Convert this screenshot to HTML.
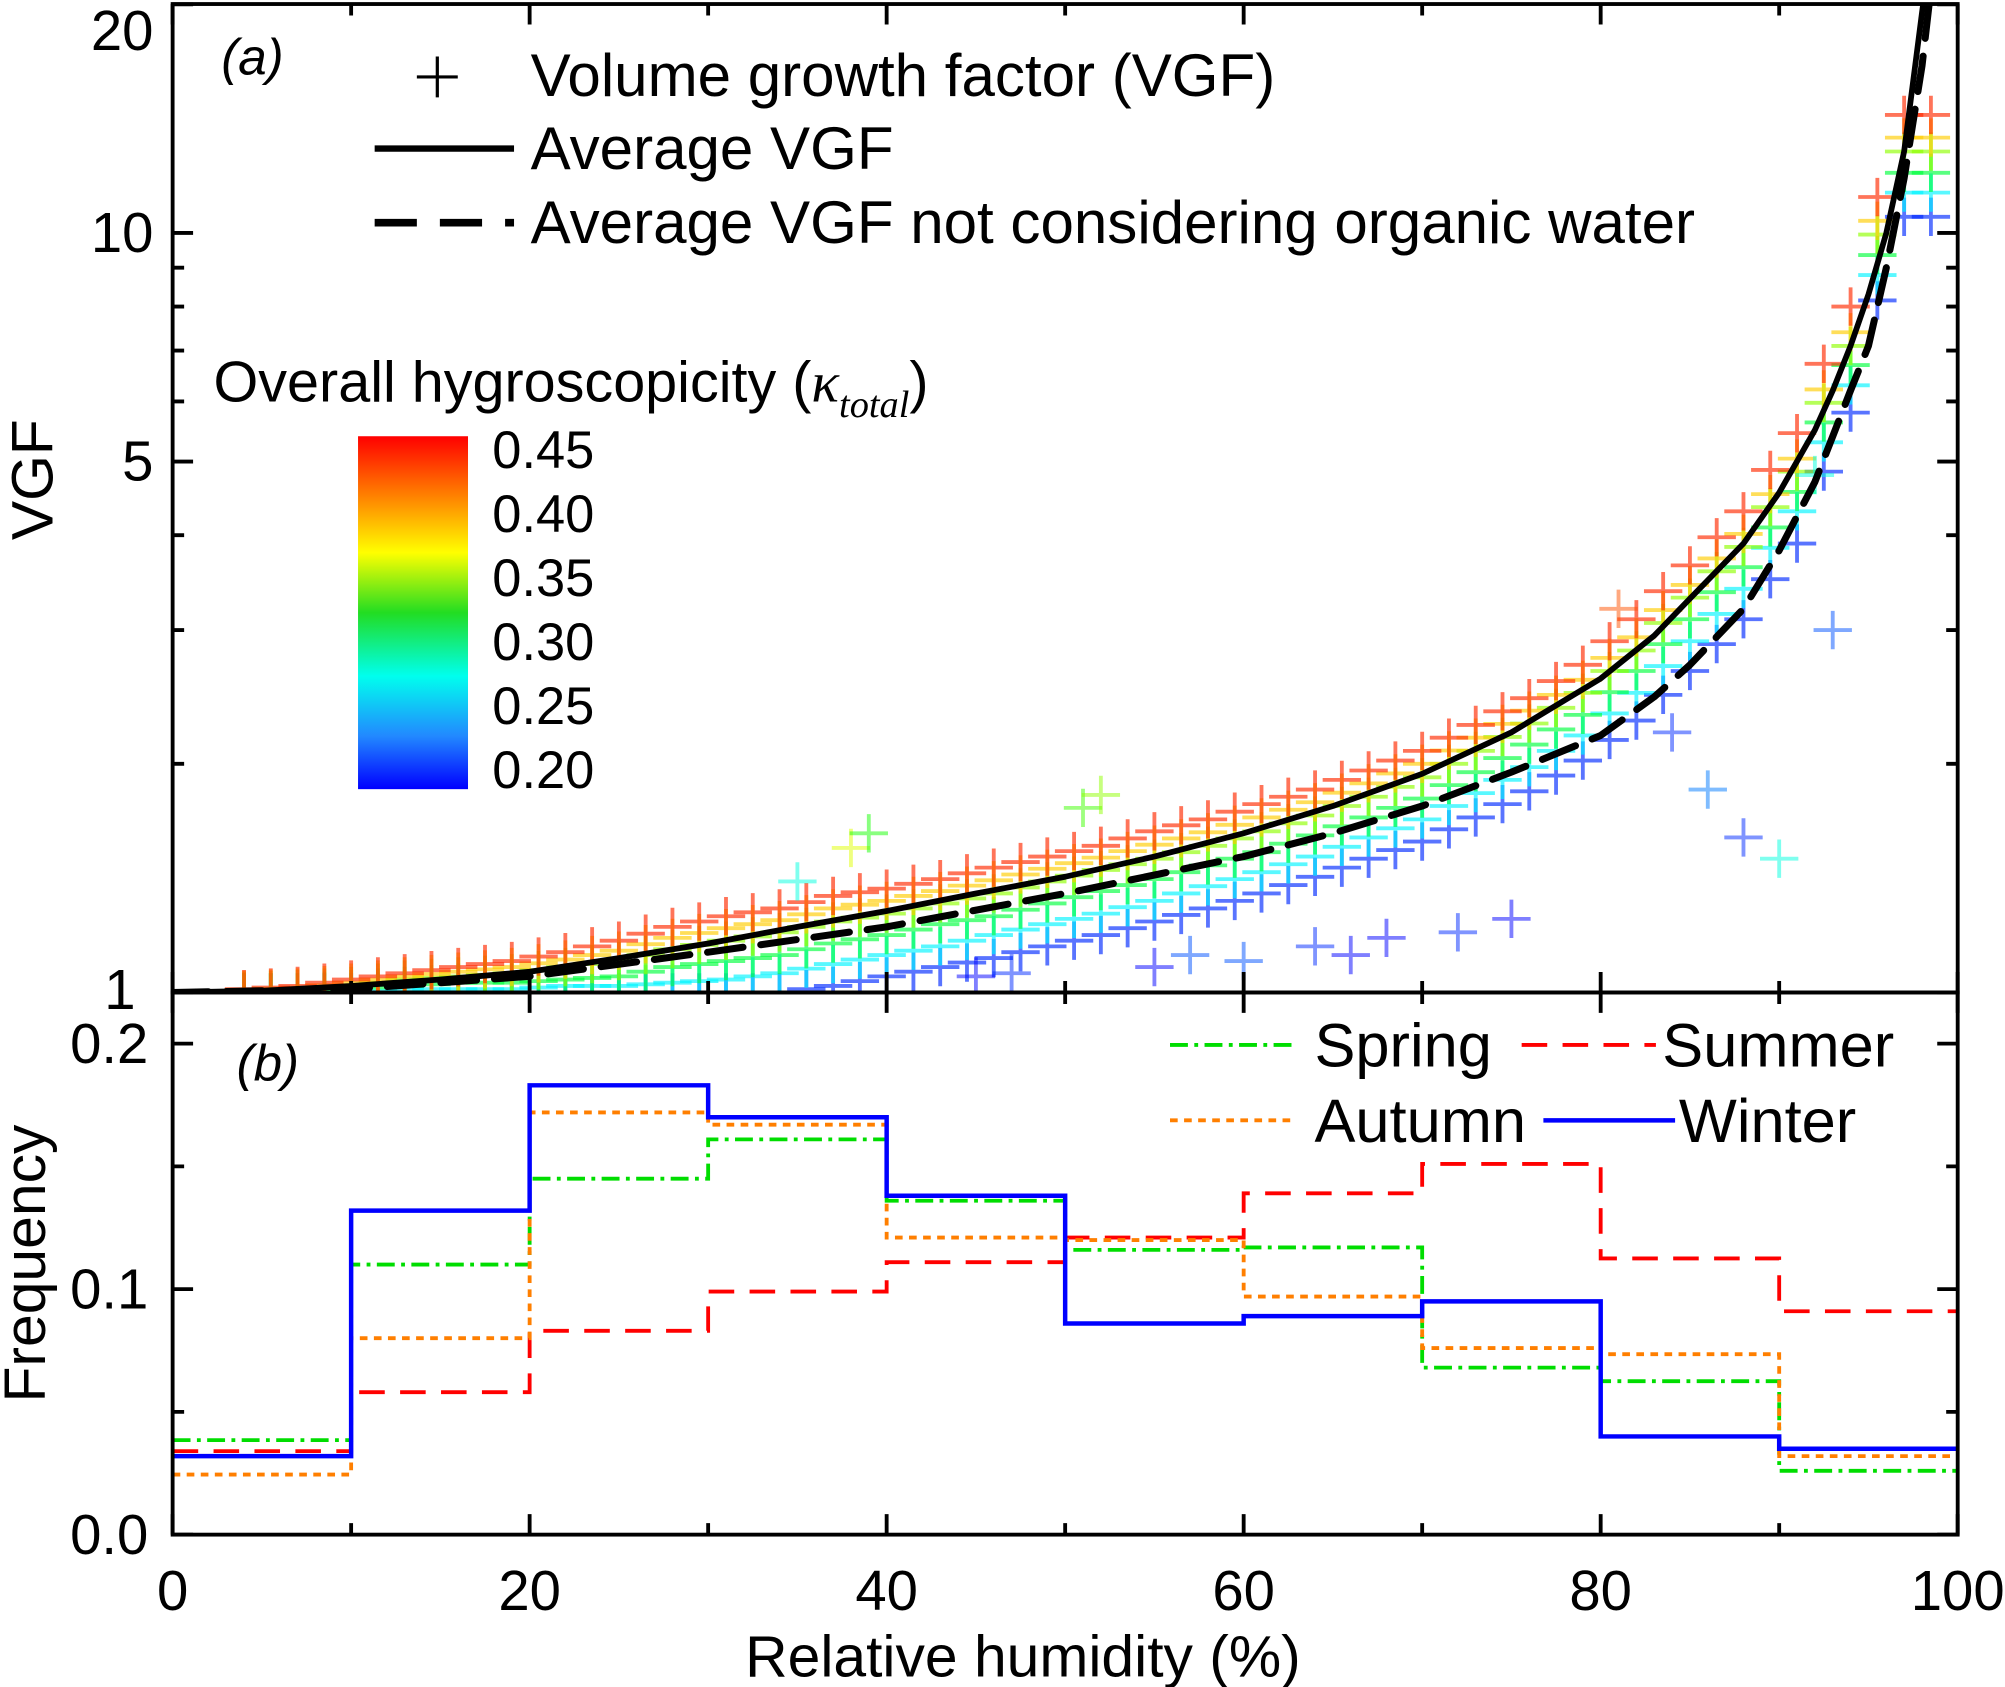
<!DOCTYPE html>
<html><head><meta charset="utf-8"><style>
html,body{margin:0;padding:0;background:#fff}
svg{display:block}
text{font-family:"Liberation Sans",sans-serif;fill:#000}
</style></head><body>
<svg id="chart" width="2005" height="1687" viewBox="0 0 1568 1319" xmlns="http://www.w3.org/2000/svg">
<defs>
<linearGradient id="cb" x1="0" y1="0" x2="0" y2="1">
<stop offset="0" stop-color="#ff0000"/><stop offset="0.2" stop-color="#ff9900"/><stop offset="0.33" stop-color="#ffff00"/><stop offset="0.5" stop-color="#22dd22"/><stop offset="0.68" stop-color="#00ffee"/><stop offset="0.85" stop-color="#2288ff"/><stop offset="1" stop-color="#0000ff"/>
</linearGradient>
<clipPath id="clipA"><rect x="135" y="3" width="1396" height="773"/></clipPath>
<clipPath id="clipB"><rect x="135" y="776" width="1396" height="424"/></clipPath>
</defs>
<g id="scatter" clip-path="url(#clipA)"></g>
<g id="curves" clip-path="url(#clipA)"></g>
<g id="hist" clip-path="url(#clipB)"></g>
<g id="axes"></g>

<text x="173" y="58" font-size="40" font-style="italic">(a)</text>
<text x="185" y="845" font-size="40" font-style="italic">(b)</text>

<g>
<g>
<path d="M326 60H358M342 44V76" stroke="#000" stroke-width="2.5"/>
<text x="415" y="75" font-size="47">Volume growth factor (VGF)</text></g>
<g>
<line x1="293" y1="116" x2="402" y2="116" stroke="#000" stroke-width="5"/>
<text x="415" y="132" font-size="47">Average VGF</text></g>
<g>
<line x1="293" y1="174" x2="402" y2="174" stroke="#000" stroke-width="6" stroke-dasharray="33,18"/>
<text x="415" y="190" font-size="47">Average VGF not considering organic water</text></g>
</g>

<g>
<text x="167" y="314" font-size="45">Overall  hygroscopicity (<tspan font-family="Liberation Serif" font-style="italic">κ</tspan><tspan font-family="Liberation Serif" font-style="italic" font-size="30" dy="12">total</tspan><tspan dy="-12">)</tspan></text>
<rect x="280" y="341" width="86" height="276" fill="url(#cb)"/>
<g font-size="41">
<text x="385" y="366">0.45</text><text x="385" y="416">0.40</text><text x="385" y="466">0.35</text>
<text x="385" y="516">0.30</text><text x="385" y="566">0.25</text><text x="385" y="616">0.20</text></g>
</g>

<g>
<g><line x1="915" y1="817" x2="1015" y2="817" stroke="#00dd00" stroke-width="3" stroke-dasharray="14,5,3,5"/><text x="1028" y="834" font-size="48">Spring</text></g>
<g><line x1="1190" y1="817" x2="1295" y2="817" stroke="#ff0000" stroke-width="3" stroke-dasharray="20,12"/><text x="1300" y="834" font-size="48">Summer</text></g>
<g><line x1="915" y1="876" x2="1010" y2="876" stroke="#ff7f00" stroke-width="3" stroke-dasharray="6,5"/><text x="1028" y="893" font-size="48">Autumn</text></g>
<g><line x1="1207" y1="876" x2="1310" y2="876" stroke="#0000ff" stroke-width="3.5"/><text x="1313" y="893" font-size="48">Winter</text></g>
</g>

<text x="800" y="1311" font-size="46" text-anchor="middle">Relative humidity (%)</text>
<text transform="translate(41,375) rotate(-90)" font-size="46" text-anchor="middle">VGF</text>
<text transform="translate(35,988) rotate(-90)" font-size="46" text-anchor="middle">Frequency</text>
</svg>
<script>
const rhPts=[4,7,10,13,16,19,22,25,28,31,34,37,40,43,46,49,52,55,58,61,64,67,70,73,76,79,82,85,88,91,94,97];
const vgfTop=[1.01,1.02,1.04,1.06,1.08,1.10,1.13,1.17,1.22,1.26,1.29,1.34,1.37,1.41,1.46,1.51,1.56,1.63,1.69,1.77,1.85,1.96,2.08,2.25,2.44,2.70,3.10,3.65,4.3,5.45,8.0,14.3];
const vgfUp=[1.008,1.015,1.03,1.05,1.065,1.08,1.105,1.135,1.18,1.215,1.245,1.29,1.32,1.36,1.405,1.455,1.505,1.565,1.625,1.70,1.78,1.885,2.0,2.165,2.35,2.58,2.935,3.44,4.015,5.045,7.4,13.35];
const vgfMid=[1.005,1.01,1.02,1.04,1.05,1.06,1.08,1.10,1.14,1.17,1.20,1.24,1.27,1.31,1.35,1.40,1.45,1.50,1.56,1.63,1.71,1.81,1.92,2.08,2.26,2.48,2.82,3.31,3.86,4.85,7.1,12.8];
const vgfLow=[1.0,1.0,1.01,1.02,1.03,1.03,1.04,1.05,1.08,1.10,1.12,1.16,1.19,1.23,1.26,1.31,1.36,1.41,1.47,1.53,1.61,1.70,1.80,1.95,2.12,2.32,2.65,3.10,3.63,4.56,6.7,12.0];
const vgfDn=[1.0,1.0,1.0,1.01,1.01,1.01,1.02,1.02,1.03,1.04,1.06,1.09,1.12,1.15,1.19,1.23,1.27,1.32,1.38,1.44,1.51,1.60,1.69,1.83,1.98,2.18,2.48,2.9,3.4,4.3,6.3,11.3];
const vgfBot=[1.0,1.0,1.0,1.0,1.0,1.0,1.0,1.0,1.0,1.0,1.0,1.02,1.05,1.08,1.11,1.15,1.19,1.24,1.29,1.35,1.42,1.50,1.58,1.70,1.84,2.02,2.28,2.65,3.1,3.9,5.8,10.5];
const kTop=0.44, kUp=0.40, kMid=0.36, kLow=0.31, kDn=0.26, kBot=0.21;
const outRh=[38,39,51,52,81,84,86,88,90,93,92,75,72,68,64,57,45,47,55,60,66,35];
const outVgf=[1.55,1.62,1.75,1.82,3.2,2.2,1.85,1.6,1.5,3.0,4.8,1.25,1.2,1.18,1.15,1.12,1.05,1.06,1.08,1.1,1.12,1.4];
const outK=[0.38,0.33,0.34,0.36,0.43,0.21,0.23,0.21,0.27,0.22,0.27,0.2,0.21,0.2,0.21,0.22,0.2,0.21,0.2,0.22,0.2,0.27];
const curveRh=[0,5,10,15,20,25,30,35,40,45,50,55,60,65,70,75,80,83,85,88,90,92,93,94,95,96,97,98,98.3];
const curveAvg=[1.0,1.005,1.02,1.04,1.065,1.11,1.16,1.22,1.28,1.35,1.42,1.51,1.62,1.76,1.94,2.2,2.59,2.95,3.3,3.9,4.55,5.5,6.2,7.1,8.3,10.0,12.8,19.5,22];
const curveRh2=[0,10,20,30,40,50,60,65,70,75,80,83,85,88,90,92,93,94,95,96,97,98,98.5];
const curveNoOrg=[1.0,1.01,1.05,1.13,1.22,1.35,1.51,1.62,1.76,1.95,2.18,2.45,2.7,3.2,3.82,4.7,5.4,6.2,7.1,9.0,11.8,16.6,21];
const binEdges=[0,10,20,30,40,50,60,70,80,90,100];
const winter=[0.032,0.132,0.183,0.170,0.138,0.086,0.089,0.095,0.040,0.035];
const spring=[0.0385,0.110,0.145,0.161,0.136,0.116,0.117,0.068,0.0625,0.026];
const summer=[0.034,0.058,0.083,0.099,0.111,0.121,0.139,0.151,0.1125,0.091];
const autumn=[0.0245,0.080,0.172,0.167,0.121,0.120,0.097,0.076,0.0735,0.032];
const xTicks=[0,20,40,60,80,100];
const vgfTicks=[1,5,10,20];
const freqTicks=[0.0,0.1,0.2];

const NS="http://www.w3.org/2000/svg";
const X=v=>135+v*13.96;
const YA=v=>776-Math.log10(v)*594;
const YB=v=>1200-v*1920;
function mk(parent,tag,attrs){const e=document.createElementNS(NS,tag);for(const k in attrs)e.setAttribute(k,attrs[k]);parent.appendChild(e);return e;}
function kcol(k){let t=(0.45-k)/0.25;t=Math.max(0,Math.min(1,t));return "hsl("+(t*240)+",100%,50%)";}
const sc=document.getElementById('scatter');
function plus(rh,v,k,op){
  const x=X(rh),y=YA(v),s=15;
  const p=mk(sc,'path',{d:`M${x-s} ${y}H${x+s}M${x} ${y-s}V${y+s}`,stroke:kcol(k),'stroke-width':3,'stroke-opacity':op||0.65,fill:'none'});
  
  
}
[[vgfBot,kBot],[vgfDn,kDn],[vgfLow,kLow],[vgfMid,kMid],[vgfUp,kUp],[vgfTop,kTop]].forEach(([arr,k])=>{
  rhPts.forEach((r,i)=>{plus(r,arr[i],k);plus(r+1.5,(arr[i]+(arr[i+1]||arr[i]))/2,k);});
});
outRh.forEach((r,i)=>plus(r,outVgf[i],outK[i],0.5));

const cv=document.getElementById('curves');
function line(rhs,vals,attrs,name){
  const d=rhs.map((r,i)=>(i?'L':'M')+X(r).toFixed(1)+' '+YA(vals[i]).toFixed(1)).join('');
  const p=mk(cv,'path',Object.assign({d:d,fill:'none',stroke:'#000','stroke-linejoin':'round'},attrs));
  
  
}
line(curveRh,curveAvg,{'stroke-width':4.5},'average-vgf-line');
line(curveRh2,curveNoOrg,{'stroke-width':5.5,'stroke-dasharray':'28,14','stroke-linecap':'round'},'average-vgf-no-organic-line');

const hg=document.getElementById('hist');
function step(vals,attrs,name){
  let d='';
  vals.forEach((v,i)=>{d+=(i?'L':'M')+X(binEdges[i])+' '+YB(v).toFixed(1)+'L'+X(binEdges[i+1])+' '+YB(v).toFixed(1);});
  const p=mk(hg,'path',Object.assign({d:d,fill:'none'},attrs));
  
  
}
step(spring,{stroke:'#00dd00','stroke-width':3,'stroke-dasharray':'14,5,3,5'},'spring-histogram');
step(summer,{stroke:'#ff0000','stroke-width':3,'stroke-dasharray':'20,12'},'summer-histogram');
step(autumn,{stroke:'#ff7f00','stroke-width':3,'stroke-dasharray':'6,5'},'autumn-histogram');
step(winter,{stroke:'#0000ff','stroke-width':3.5},'winter-histogram');

const ax=document.getElementById('axes');
const fr1=mk(ax,'rect',{x:135,y:3,width:1396,height:773,fill:'none',stroke:'#000','stroke-width':3});


const fr2=mk(ax,'rect',{x:135,y:776,width:1396,height:424,fill:'none',stroke:'#000','stroke-width':3});


let td='';
for(let v=0;v<=100;v+=10){const x=X(v),L=(v%20===0)?16:9;
  td+=`M${x} 1200V${1200-L}M${x} 776V${776-L}M${x} 776V${776+L}M${x} 3V${3+L}`;}
[1,2,3,4,5,6,7,8,9,10,20].forEach(v=>{const y=YA(v),L=vgfTicks.includes(v)?16:9;td+=`M135 ${y}H${135+L}M1531 ${y}H${1531-L}`;});
for(let v=0;v<=0.2001;v+=0.05){const y=YB(v),L=(Math.round(v*100)%10===0)?16:9;td+=`M135 ${y}H${135+L}M1531 ${y}H${1531-L}`;}
const tp=mk(ax,'path',{d:td,stroke:'#000','stroke-width':3,fill:'none'});


xTicks.forEach(v=>{const t=mk(ax,'text',{x:X(v),y:1259,'font-size':44,'text-anchor':'middle'});t.textContent=v;
  
  });
vgfTicks.forEach(v=>{const y=v===1?789:(v===20?39:YA(v)+15);const t=mk(ax,'text',{x:v===1?106:120,y:y,'font-size':44,'text-anchor':'end'});t.textContent=v;
  
  });
freqTicks.forEach(v=>{const t=mk(ax,'text',{x:116,y:YB(v)+15,'font-size':44,'text-anchor':'end'});t.textContent=v.toFixed(1);
  
  });
</script>
</body></html>
